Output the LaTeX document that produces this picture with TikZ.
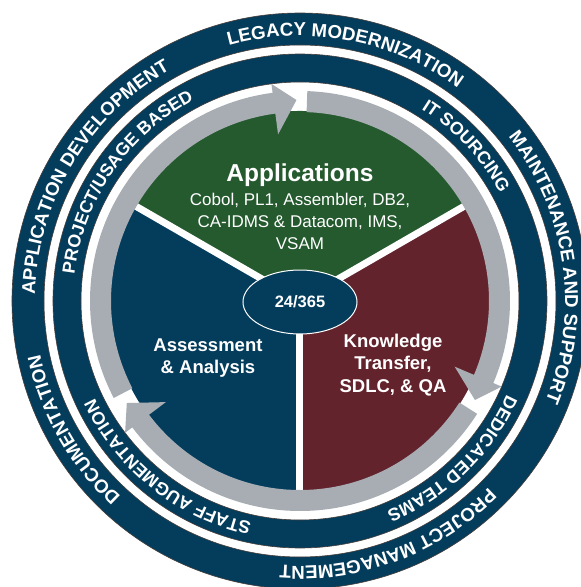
\documentclass[tikz,border=0pt]{standalone}
\usepackage{fontspec}
\setmainfont{Liberation Sans}
\usetikzlibrary{decorations.text,shapes.geometric}
\definecolor{navy}{RGB}{4,60,92}
\definecolor{leaf}{RGB}{36,90,46}
\definecolor{wine}{RGB}{99,35,45}
\definecolor{ringgray}{RGB}{167,173,179}
\definecolor{ringedge}{RGB}{70,62,58}
\tikzset{
  bandring/.style={fill=navy, draw=ringedge, line width=0.6pt, even odd rule},
  divider/.style={white, line width=7pt},
  cyclearrow/.style={fill=ringgray},
  bodytext/.style={text=white, align=center, font=\bfseries\fontsize{18.5pt}{22.5pt}\selectfont}
}
% radius, mid angle, font size, text
\newcommand\myringtext[4]{%
  \path[decorate, decoration={text along path, text align=center,
    text={|\fontsize{#3}{20pt}\selectfont\bfseries\color{white}|#4}}]
    ({#2+90}:#1) arc[start angle={#2+90}, end angle={#2-90}, radius=#1];
}
% start angle, base angle, tip angle
\newcommand\mycyclearrow[3]{%
  \fill[cyclearrow] (#1:210pt) arc[start angle=#1, end angle=#2, radius=210pt]
    -- (#2:219pt) -- (#3:201pt) -- (#2:168pt) -- (#2:189pt)
    arc[start angle=#2, end angle=#1, radius=189pt] -- cycle;
}
\begin{document}
\begin{tikzpicture}[x=1pt,y=1pt]
\useasboundingbox (-300,-286) rectangle (281,301);
\fill[white] (-300,-286) rectangle (281,301);
% outer bands
\path[bandring] (0,0) circle[radius=288pt] (0,0) circle[radius=256pt];
\path[bandring] (0,0) circle[radius=247pt] (0,0) circle[radius=219pt];
% pie
\fill[leaf] (0,0) -- (30:190pt) arc[start angle=30, end angle=150, radius=190pt] -- cycle;
\fill[navy] (0,0) -- (150:190pt) arc[start angle=150, end angle=270, radius=190pt] -- cycle;
\fill[wine] (0,0) -- (270:190pt) arc[start angle=270, end angle=390, radius=190pt] -- cycle;
\coordinate (pc) at (0,0);
\coordinate (d1) at (30:190pt);
\coordinate (d2) at (150:190pt);
\coordinate (d3) at (270:190pt);
\draw[divider] (pc) -- (d1);
\draw[divider] (pc) -- (d2);
\draw[divider] (pc) -- (d3);
% cycle arrows
\mycyclearrow{207.5}{97.5}{91}
\mycyclearrow{88}{-23}{-29.5}
\mycyclearrow{-32.5}{-143}{-149.5}
% centre ellipse
\node[ellipse, minimum width=114pt, minimum height=64pt, inner sep=0pt, fill=navy, draw=white, line width=1pt,
  text=white, font=\bfseries\fontsize{16.5pt}{19pt}\selectfont] (hub) at (0,-1) {24/365};
% sector texts
\node[text=white, font=\bfseries\fontsize{24.5pt}{28pt}\selectfont] (apps) at (0,126) {Applications};
\node[text=white, align=center, font=\fontsize{17pt}{22pt}\selectfont] (appslist) at (0,80)
  {Cobol, PL1, Assembler, DB2,\\CA-IDMS \& Datacom, IMS,\\VSAM};
\node[bodytext] (assess) at (-92,-57) {Assessment\\\& Analysis};
\node[bodytext] (know) at (93,-64) {Knowledge\\Transfer,\\SDLC, \& QA};
% ring texts outer
\myringtext{265pt}{209.5}{18.7pt}{DOCUMENTATION}
\myringtext{265pt}{149}{18.7pt}{APPLICATION DEVELOPMENT}
\myringtext{265pt}{79.5}{18.7pt}{LEGACY MODERNIZATION}
\myringtext{265pt}{8}{18.7pt}{MAINTENANCE AND SUPPORT}
\myringtext{265pt}{-69.5}{18.7pt}{PROJECT MANAGEMENT}
% ring texts inner
\myringtext{227pt}{145.5}{17.8pt}{PROJECT/USAGE BASED}
\myringtext{227pt}{43}{17.8pt}{IT SOURCING}
\myringtext{227pt}{-46}{17.8pt}{DEDICATED TEAMS}
\myringtext{227pt}{231.5}{17.8pt}{STAFF AUGMENTATION}
\end{tikzpicture}
\end{document}
